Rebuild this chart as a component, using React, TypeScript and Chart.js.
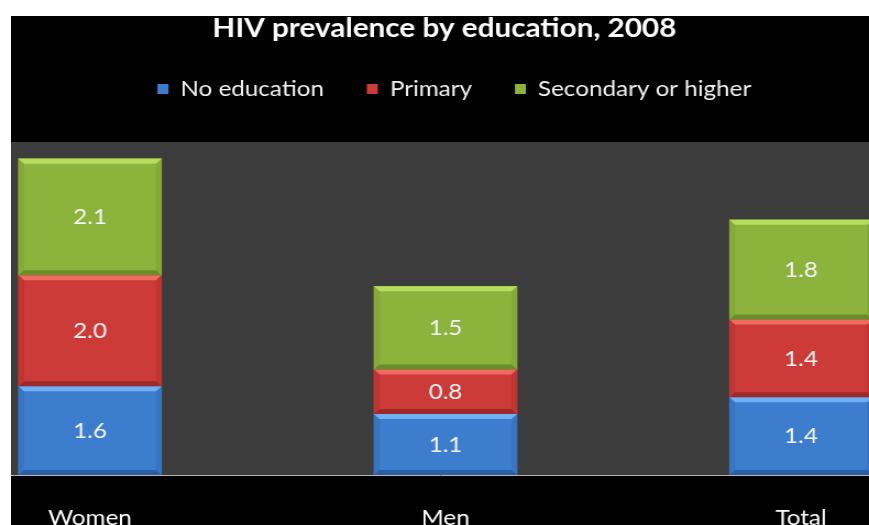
import React, { useEffect, useRef } from 'react';
import { Chart, registerables } from 'chart.js';

Chart.register(...registerables);

const title = 'HIV prevalence by education, 2008';
const categories = ['Women', 'Men', 'Total'];
const seriesNames = ['No education', 'Primary', 'Secondary or higher'];
const noEducation = [1.6, 1.1, 1.4];
const primary = [2.0, 0.8, 1.4];
const secondary = [2.1, 1.5, 1.8];

const faceColors = ['#3d7dcd', '#cc3b37', '#8cb33c'];
const lightColors = ['#6fb0f2', '#f06a60', '#b6dc5c'];
const darkColors = ['#2a5ea6', '#9e2a28', '#6a8c2a'];
const sideColors = ['#3774c2', '#c03531', '#84aa37'];

const FONT = 'Lato';
const W = 780; // internal width, displayed stretched to 858
const H = 509;

const plotBg = {
  id: 'plotBg',
  beforeDraw(chart: any) {
    const { ctx, chartArea: a } = chart;
    ctx.save();
    ctx.fillStyle = '#3c3c3c';
    ctx.fillRect(a.left, a.top, a.right - a.left, a.bottom - a.top);
    ctx.restore();
  },
};

const legendFit = {
  id: 'legendFit',
  beforeLayout(chart: any) {
    const lg = chart.legend;
    if (lg && !lg.__patched) {
      const origFit = lg.fit;
      lg.fit = function () {
        origFit.call(this);
        this.height = 103;
      };
      const origDraw = lg.draw;
      lg.draw = function (...args: any[]) {
        const c = this.ctx;
        c.save();
        c.translate(13, 0);
        origDraw.apply(this, args);
        c.restore();
      };
      lg.__patched = true;
    }
    const tt = chart.titleBlock;
    if (tt && !tt.__patched) {
      const origDraw = tt.draw;
      tt.draw = function (...args: any[]) {
        const c = this.ctx;
        c.save();
        c.translate(4, 0);
        origDraw.apply(this, args);
        c.restore();
      };
      tt.__patched = true;
    }
  },
};

const bevelAndLabels = {
  id: 'bevelAndLabels',
  afterDatasetsDraw(chart: any) {
    const { ctx } = chart;
    ctx.save();
    chart.data.datasets.forEach((ds: any, di: number) => {
      const meta = chart.getDatasetMeta(di);
      meta.data.forEach((el: any, i: number) => {
        const p = el.getProps(['x', 'y', 'base', 'width'], true);
        const l = p.x - p.width / 2;
        const r = p.x + p.width / 2;
        const t = Math.min(p.y, p.base);
        const b = Math.max(p.y, p.base);
        const bv = 5;
        ctx.fillStyle = sideColors[di];
        ctx.beginPath();
        ctx.moveTo(l, t); ctx.lineTo(l + bv, t + bv); ctx.lineTo(l + bv, b - bv); ctx.lineTo(l, b); ctx.closePath(); ctx.fill();
        ctx.beginPath();
        ctx.moveTo(r, t); ctx.lineTo(r - bv, t + bv); ctx.lineTo(r - bv, b - bv); ctx.lineTo(r, b); ctx.closePath(); ctx.fill();
        ctx.fillStyle = lightColors[di];
        ctx.beginPath();
        ctx.moveTo(l, t); ctx.lineTo(r, t); ctx.lineTo(r - bv, t + bv); ctx.lineTo(l + bv, t + bv); ctx.closePath(); ctx.fill();
        ctx.fillStyle = darkColors[di];
        ctx.beginPath();
        ctx.moveTo(l, b); ctx.lineTo(r, b); ctx.lineTo(r - bv, b - bv); ctx.lineTo(l + bv, b - bv); ctx.closePath(); ctx.fill();
        const v = ds.data[i].y;
        ctx.fillStyle = '#f4f4f4';
        ctx.font = `22px ${FONT}`;
        ctx.textAlign = 'center';
        ctx.textBaseline = 'middle';
        ctx.fillText(Number(v).toFixed(1), p.x, (t + b) / 2);
      });
    });
    ctx.restore();
  },
};

export default function App() {
  const ref = useRef<HTMLCanvasElement>(null);
  useEffect(() => {
    if (!ref.current) return;
    const series = [noEducation, primary, secondary];
    const chart = new Chart(ref.current, {
      type: 'bar',
      data: {
        datasets: series.map((arr, si) => ({
          label: seriesNames[si],
          data: arr.map((v, i) => ({ x: i, y: v })),
          backgroundColor: faceColors[si],
          borderWidth: 0,
          barThickness: 130,
        })),
      },
      options: {
        responsive: false,
        animation: false,
        devicePixelRatio: 1,
        layout: { padding: 0 },
        plugins: {
          title: {
            display: true,
            text: title,
            color: '#ffffff',
            font: { family: FONT, size: 27, weight: 'bold', lineHeight: 0.63 },
            padding: { top: 4, bottom: 2 },
          },
          legend: {
            display: true,
            position: 'top',
            labels: {
              color: '#f2f2f2',
              font: { family: FONT, size: 22 },
              boxWidth: 10,
              boxHeight: 10,
              padding: 39,
            },
          },
          tooltip: { enabled: false },
        },
        scales: {
          x: {
            type: 'linear',
            offset: false,
            min: -0.2222,
            max: 2.1913,
            stacked: true,
            afterBuildTicks: (s: any) => {
              s.ticks = categories.map((_, i) => ({ value: i }));
            },
            afterFit: (s: any) => {
              s.height = 50;
            },
            ticks: {
              color: '#ffffff',
              font: { family: FONT, size: 22, lineHeight: 1 },
              padding: 32,
              maxRotation: 0,
              autoSkip: false,
              callback: (v: any) => categories[v] ?? '',
            },
            grid: { display: false, drawTicks: false, offset: false },
            border: { display: true, color: '#b4b4b4', width: 1 },
          },
          y: {
            display: false,
            stacked: true,
            min: 0,
            max: 6,
          },
        },
      },
      plugins: [plotBg, legendFit, bevelAndLabels],
    } as any);
    return () => chart.destroy();
  }, []);
  return (
    <div style={{ position: 'fixed', left: 11, top: 16, width: 858, height: H, background: '#000', overflow: 'hidden' }}>
      <canvas
        ref={ref}
        width={W}
        height={H}
        style={{ display: 'block', width: W, height: H, transform: 'scaleX(1.1)', transformOrigin: '0 0' }}
      />
    </div>
  );
}
